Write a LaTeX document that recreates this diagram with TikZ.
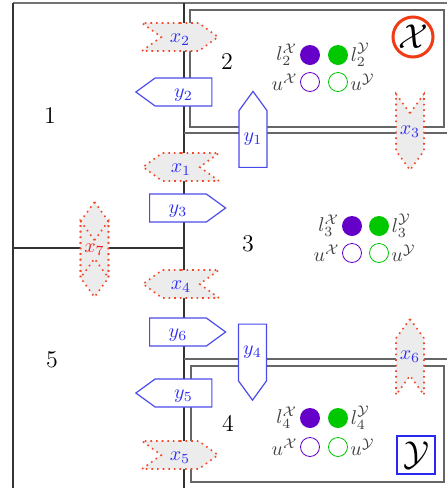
\documentclass[tikz,border=0pt]{standalone}
\usepackage{amsmath}
\usepackage{amssymb}
\usepackage{xcolor}
\usepackage{tikz}
\usetikzlibrary{shapes,arrows,positioning,calc}

\definecolor{sigred}{RGB}{245,70,40}
\definecolor{sigblue}{RGB}{75,75,235}
\definecolor{lblblue}{RGB}{45,45,245}
\definecolor{lblred}{RGB}{245,30,30}
\definecolor{dotvio}{RGB}{100,0,200}
\definecolor{dotgreen}{RGB}{0,200,0}
\definecolor{ringred}{RGB}{240,60,20}
\definecolor{boxblue}{RGB}{40,40,240}

\begin{document}
\begin{tikzpicture}[
    x=0.5pt, y=-0.5pt,
    xsig/.style={signal, draw=sigred, dotted, line width=0.8pt, fill=gray!15, signal pointer angle=72, inner sep=0pt, text=lblblue},
    ysig/.style={signal, draw=sigblue, semithick, fill=white, signal pointer angle=72, inner sep=0pt, text=lblblue},
    hsig/.style={minimum width=38pt, minimum height=14pt, text height=9.5pt, text depth=4.5pt},
    vsig/.style={minimum width=14pt, minimum height=38pt, text width=14pt, align=center},
    region/.style={font=\large},
    fdot/.style={circle, minimum size=10pt, inner sep=0pt},
    odot/.style={circle, minimum size=9.5pt, inner sep=0pt, fill=white, thin},
    dotlbl/.style={font=\normalsize, text=black!75, inner sep=1pt},
    wall/.style={draw=black!80, line width=0.7pt},
    frame/.style={draw=black!60, line width=0.6pt}
]

\useasboundingbox (0,0) rectangle (447,488);

% ── Partition walls ──
\draw[wall, draw=black!55] (447,3) -- (13,3);
\draw[wall, line width=0.9pt] (13,3) -- (13,488);
\draw[wall] (184,3) -- (184,488);
\draw[wall] (13,248) -- (184,248);
\draw[wall, draw=black!60] (184,133) -- (447,133);
\draw[wall, draw=black!60] (184,359) -- (447,359);

% ── Inner frames ──
\draw[frame] (190,10) rectangle (444,127);
\draw[frame] (191,366) rectangle (444,482);

% ── Region numbers ──
\node[region] (r1) at (50,116) {1};
\node[region] (r2) at (227,62) {2};
\node[region] (r3) at (248,244) {3};
\node[region] (r4) at (228,423) {4};
\node[region] (r5) at (52,360) {5};

% ── Sets ──
\node[circle, draw=ringred, line width=1.5pt, minimum size=20pt, inner sep=0pt, font=\LARGE] (setx) at (413,37) {$\mathcal{X}$};
\node[rectangle, draw=boxblue, line width=1.2pt, minimum size=19pt, inner sep=0pt, font=\LARGE] (sety) at (416,455) {$\mathcal{Y}$};

% ── Bounds in region 2 ──
\node[fdot, fill=dotvio, label={[dotlbl]left:$l_2^{\mathcal{X}}$}] (l2x) at (310,55) {};
\node[fdot, fill=dotgreen, label={[dotlbl]right:$l_2^{\mathcal{Y}}$}] (l2y) at (338,55) {};
\node[odot, draw=dotvio, label={[dotlbl]left:$u^{\mathcal{X}}$}] (u2x) at (310,82) {};
\node[odot, draw=dotgreen, label={[dotlbl]right:$u^{\mathcal{Y}}$}] (u2y) at (338,82) {};

% ── Bounds in region 3 ──
\node[fdot, fill=dotvio, label={[dotlbl]left:$l_3^{\mathcal{X}}$}] (l3x) at (352,226) {};
\node[fdot, fill=dotgreen, label={[dotlbl]right:$l_3^{\mathcal{Y}}$}] (l3y) at (379,226) {};
\node[odot, draw=dotvio, label={[dotlbl]left:$u^{\mathcal{X}}$}] (u3x) at (352,253) {};
\node[odot, draw=dotgreen, label={[dotlbl]right:$u^{\mathcal{Y}}$}] (u3y) at (379,253) {};

% ── Bounds in region 4 ──
\node[fdot, fill=dotvio, label={[dotlbl]left:$l_4^{\mathcal{X}}$}] (l4x) at (310,418) {};
\node[fdot, fill=dotgreen, label={[dotlbl]right:$l_4^{\mathcal{Y}}$}] (l4y) at (338,418) {};
\node[odot, draw=dotvio, label={[dotlbl]left:$u^{\mathcal{X}}$}] (u4x) at (310,447) {};
\node[odot, draw=dotgreen, label={[dotlbl]right:$u^{\mathcal{Y}}$}] (u4y) at (338,447) {};

% ── Signals on the walls ──
\node[xsig, hsig, signal to=east, signal from=west] (x2) at (180,37) {$x_2$};
\node[ysig, hsig, signal to=west] (y2) at (183.5,92) {$y_2$};
\node[ysig, vsig, signal to=north] (y1) at (253,139) {$y_1$};
\node[xsig, vsig, signal to=south, signal from=north] (x3) at (410,132) {$x_3$};
\node[xsig, hsig, signal to=west, signal from=east] (x1) at (181,167) {$x_1$};
\node[ysig, hsig, signal to=east] (y3) at (178,208) {$y_3$};

% x7: two overlapping signals
\node[xsig, vsig, signal to=north, signal from=south, draw=none] (x7a) at (94.5,240) {};
\node[xsig, vsig, signal to=south, signal from=north] (x7b) at (94.5,259) {};
\node[xsig, vsig, signal to=north, signal from=south, fill=none] (x7c) at (94.5,240) {};
\node[text=lblred] (x7) at ($(x7a)!0.5!(x7b)$) {$x_7$};

\node[xsig, hsig, signal to=west, signal from=east] (x4) at (181,284) {$x_4$};
\node[ysig, hsig, signal to=east] (y6) at (178,332) {$y_6$};
\node[ysig, vsig, signal to=south] (y4) at (252.5,352.5) {$y_4$};
\node[ysig, hsig, signal to=west] (y5) at (183.5,393) {$y_5$};
\node[xsig, hsig, signal to=east, signal from=west] (x5) at (180,455) {$x_5$};
\node[xsig, vsig, signal to=north, signal from=south] (x6) at (410,357) {$x_6$};

\end{tikzpicture}
\end{document}
